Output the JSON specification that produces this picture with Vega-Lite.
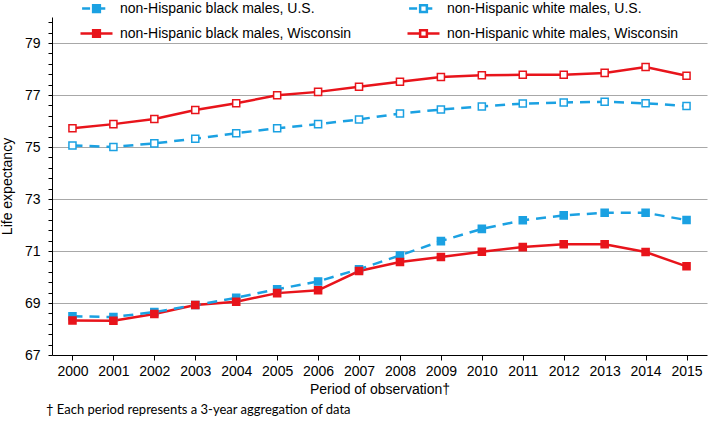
{
  "$schema": "https://vega.github.io/schema/vega-lite/v6.json",
  "width": 655,
  "height": 338,
  "autosize": {"type": "none"},
  "padding": {"left": 52, "top": 17, "right": 2, "bottom": 71},
  "background": "white",
  "config": {
    "view": {"stroke": null},
    "font": "Arial",
    "axis": {"labelFont": "Arial", "titleFont": "Arial", "labelColor": "#000", "titleColor": "#000", "titleFontWeight": "normal"},
    "legend": {"labelFont": "Arial"}
  },
  "title": {
    "text": "† Each period represents a 3-year aggregation of data",
    "orient": "bottom",
    "anchor": "start",
    "frame": "group",
    "font": "Lato",
    "fontSize": 13,
    "fontWeight": "normal",
    "color": "#000",
    "offset": 8,
    "dx": -6
  },
  "data": {
    "values": [
      {"year": 2000, "series": "non-Hispanic black males, U.S.", "value": 68.49},
      {"year": 2001, "series": "non-Hispanic black males, U.S.", "value": 68.46},
      {"year": 2002, "series": "non-Hispanic black males, U.S.", "value": 68.65},
      {"year": 2003, "series": "non-Hispanic black males, U.S.", "value": 68.92},
      {"year": 2004, "series": "non-Hispanic black males, U.S.", "value": 69.2},
      {"year": 2005, "series": "non-Hispanic black males, U.S.", "value": 69.53},
      {"year": 2006, "series": "non-Hispanic black males, U.S.", "value": 69.83},
      {"year": 2007, "series": "non-Hispanic black males, U.S.", "value": 70.3},
      {"year": 2008, "series": "non-Hispanic black males, U.S.", "value": 70.83},
      {"year": 2009, "series": "non-Hispanic black males, U.S.", "value": 71.38},
      {"year": 2010, "series": "non-Hispanic black males, U.S.", "value": 71.85},
      {"year": 2011, "series": "non-Hispanic black males, U.S.", "value": 72.18},
      {"year": 2012, "series": "non-Hispanic black males, U.S.", "value": 72.37},
      {"year": 2013, "series": "non-Hispanic black males, U.S.", "value": 72.47},
      {"year": 2014, "series": "non-Hispanic black males, U.S.", "value": 72.47},
      {"year": 2015, "series": "non-Hispanic black males, U.S.", "value": 72.19},
      {"year": 2000, "series": "non-Hispanic white males, U.S.", "value": 75.06},
      {"year": 2001, "series": "non-Hispanic white males, U.S.", "value": 75.0},
      {"year": 2002, "series": "non-Hispanic white males, U.S.", "value": 75.14},
      {"year": 2003, "series": "non-Hispanic white males, U.S.", "value": 75.32},
      {"year": 2004, "series": "non-Hispanic white males, U.S.", "value": 75.53},
      {"year": 2005, "series": "non-Hispanic white males, U.S.", "value": 75.72},
      {"year": 2006, "series": "non-Hispanic white males, U.S.", "value": 75.88},
      {"year": 2007, "series": "non-Hispanic white males, U.S.", "value": 76.06},
      {"year": 2008, "series": "non-Hispanic white males, U.S.", "value": 76.29},
      {"year": 2009, "series": "non-Hispanic white males, U.S.", "value": 76.44},
      {"year": 2010, "series": "non-Hispanic white males, U.S.", "value": 76.56},
      {"year": 2011, "series": "non-Hispanic white males, U.S.", "value": 76.67},
      {"year": 2012, "series": "non-Hispanic white males, U.S.", "value": 76.71},
      {"year": 2013, "series": "non-Hispanic white males, U.S.", "value": 76.74},
      {"year": 2014, "series": "non-Hispanic white males, U.S.", "value": 76.68},
      {"year": 2015, "series": "non-Hispanic white males, U.S.", "value": 76.58},
      {"year": 2000, "series": "non-Hispanic black males, Wisconsin", "value": 68.33},
      {"year": 2001, "series": "non-Hispanic black males, Wisconsin", "value": 68.32},
      {"year": 2002, "series": "non-Hispanic black males, Wisconsin", "value": 68.58},
      {"year": 2003, "series": "non-Hispanic black males, Wisconsin", "value": 68.92},
      {"year": 2004, "series": "non-Hispanic black males, Wisconsin", "value": 69.05},
      {"year": 2005, "series": "non-Hispanic black males, Wisconsin", "value": 69.38},
      {"year": 2006, "series": "non-Hispanic black males, Wisconsin", "value": 69.49},
      {"year": 2007, "series": "non-Hispanic black males, Wisconsin", "value": 70.23},
      {"year": 2008, "series": "non-Hispanic black males, Wisconsin", "value": 70.58},
      {"year": 2009, "series": "non-Hispanic black males, Wisconsin", "value": 70.77},
      {"year": 2010, "series": "non-Hispanic black males, Wisconsin", "value": 70.97},
      {"year": 2011, "series": "non-Hispanic black males, Wisconsin", "value": 71.15},
      {"year": 2012, "series": "non-Hispanic black males, Wisconsin", "value": 71.26},
      {"year": 2013, "series": "non-Hispanic black males, Wisconsin", "value": 71.26},
      {"year": 2014, "series": "non-Hispanic black males, Wisconsin", "value": 70.96},
      {"year": 2015, "series": "non-Hispanic black males, Wisconsin", "value": 70.41},
      {"year": 2000, "series": "non-Hispanic white males, Wisconsin", "value": 75.72},
      {"year": 2001, "series": "non-Hispanic white males, Wisconsin", "value": 75.88},
      {"year": 2002, "series": "non-Hispanic white males, Wisconsin", "value": 76.08},
      {"year": 2003, "series": "non-Hispanic white males, Wisconsin", "value": 76.42},
      {"year": 2004, "series": "non-Hispanic white males, Wisconsin", "value": 76.68},
      {"year": 2005, "series": "non-Hispanic white males, Wisconsin", "value": 76.99},
      {"year": 2006, "series": "non-Hispanic white males, Wisconsin", "value": 77.12},
      {"year": 2007, "series": "non-Hispanic white males, Wisconsin", "value": 77.32},
      {"year": 2008, "series": "non-Hispanic white males, Wisconsin", "value": 77.51},
      {"year": 2009, "series": "non-Hispanic white males, Wisconsin", "value": 77.69},
      {"year": 2010, "series": "non-Hispanic white males, Wisconsin", "value": 77.76},
      {"year": 2011, "series": "non-Hispanic white males, Wisconsin", "value": 77.78},
      {"year": 2012, "series": "non-Hispanic white males, Wisconsin", "value": 77.78},
      {"year": 2013, "series": "non-Hispanic white males, Wisconsin", "value": 77.85},
      {"year": 2014, "series": "non-Hispanic white males, Wisconsin", "value": 78.08},
      {"year": 2015, "series": "non-Hispanic white males, Wisconsin", "value": 77.74}
    ]
  },
  "encoding": {
    "x": {
      "field": "year",
      "type": "quantitative",
      "scale": {"domain": [1999.5, 2015.5], "nice": false, "zero": false},
      "axis": {
        "title": "Period of observation†",
        "titleFontSize": 14,
        "titlePadding": 4,
        "values": [2000, 2001, 2002, 2003, 2004, 2005, 2006, 2007, 2008, 2009, 2010, 2011, 2012, 2013, 2014, 2015],
        "format": "d",
        "labelFontSize": 14,
        "labelPadding": 4,
        "grid": false,
        "domainColor": "#000",
        "domainWidth": 1,
        "tickColor": "#000",
        "tickSize": 5
      }
    },
    "y": {
      "field": "value",
      "type": "quantitative",
      "scale": {"domain": [67, 80], "nice": false, "zero": false},
      "axis": {
        "title": "Life expectancy",
        "titleFontSize": 14,
        "titlePadding": 10,
        "values": [67, 67.4, 67.8, 68.2, 68.6, 69, 69.4, 69.8, 70.2, 70.6, 71, 71.4, 71.8, 72.2, 72.6, 73, 73.4, 73.8, 74.2, 74.6, 75, 75.4, 75.8, 76.2, 76.6, 77, 77.4, 77.8, 78.2, 78.6, 79, 79.4, 79.8],
        "labelExpr": "datum.value % 2 == 1 ? datum.value : ''",
        "labelFontSize": 14,
        "labelPadding": 8,
        "labelOverlap": false,
        "grid": true,
        "gridColor": "#a8a8a8",
        "gridWidth": 1.2,
        "gridOpacity": {"condition": {"test": "datum.value % 2 == 1 && datum.value > 67.5", "value": 1}, "value": 0},
        "domainColor": "#000",
        "tickColor": "#000",
        "tickSize": 4
      }
    },
    "color": {
      "field": "series",
      "type": "nominal",
      "scale": {
        "domain": ["non-Hispanic black males, U.S.", "non-Hispanic white males, U.S.", "non-Hispanic black males, Wisconsin", "non-Hispanic white males, Wisconsin"],
        "range": ["#1ba1e2", "#1ba1e2", "#e8141b", "#e8141b"]
      },
      "legend": {
        "title": null,
        "orient": "none",
        "legendX": 35,
        "legendY": -18,
        "direction": "horizontal",
        "columns": 2,
        "columnPadding": 50,
        "rowPadding": 7,
        "padding": 0,
        "symbolSize": 256,
        "symbolStrokeWidth": 2.5,
        "symbolType": "M-2,0H2",
        "labelFontSize": 14,
        "labelFont": "Arial",
        "labelColor": "#000",
        "labelOffset": 14,
        "labelLimit": 400,
        "encode": {
          "symbols": {
            "update": {
              "shape": {"signal": "indexof(datum.value, 'U.S.') >= 0 ? 'M-1.8,0H-0.8M0.42,0H1.1M-0.42,-0.42H0.42V0.42H-0.42Z' : 'M-2,0H-0.42M0.42,0H2M-0.42,-0.42H0.42V0.42H-0.42Z'"},
              "fill": {"signal": "indexof(datum.value, 'black') >= 0 ? (indexof(datum.value, 'U.S.') >= 0 ? '#1ba1e2' : '#e8141b') : '#ffffff'"},
              "fillOpacity": {"value": 1}
            }
          }
        }
      }
    }
  },
  "layer": [
    {
      "transform": [{"filter": "indexof(datum.series, 'Wisconsin') >= 0"}],
      "mark": {"type": "line", "strokeWidth": 2.5}
    },
    {
      "transform": [{"filter": "indexof(datum.series, 'U.S.') >= 0"}],
      "mark": {"type": "line", "strokeWidth": 2.5, "strokeDash": [10, 7]}
    },
    {
      "mark": {"type": "point", "shape": "square", "size": 50, "strokeWidth": 1.5, "opacity": 1},
      "encoding": {
        "fill": {
          "field": "series",
          "type": "nominal",
          "scale": {
            "domain": ["non-Hispanic black males, U.S.", "non-Hispanic white males, U.S.", "non-Hispanic black males, Wisconsin", "non-Hispanic white males, Wisconsin"],
            "range": ["#1ba1e2", "#ffffff", "#e8141b", "#ffffff"]
          },
          "legend": null
        }
      }
    }
  ]
}
